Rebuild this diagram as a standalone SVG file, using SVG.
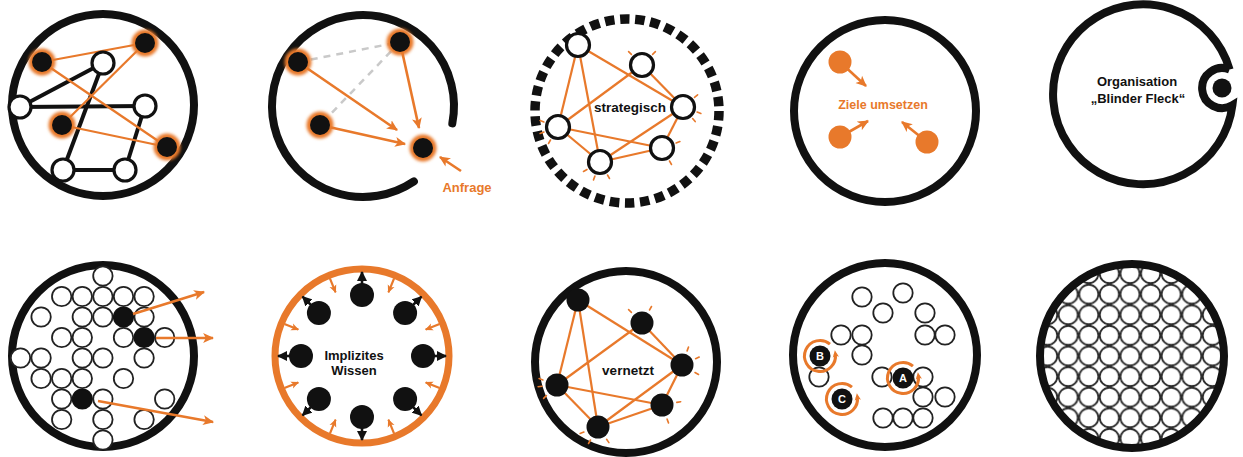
<svg xmlns="http://www.w3.org/2000/svg" width="1243" height="457" viewBox="0 0 1243 457">
<style>
.ring{fill:none;stroke:#111;stroke-width:8}
.bl{stroke:#111;stroke-width:4;fill:none}
.ol{stroke:#E8792B;stroke-width:2.2;fill:none}
.oa{stroke:#E8792B;stroke-width:2.6;fill:none;marker-end:url(#ao)}
.wn{fill:#fff;stroke:#111;stroke-width:3.2}
.bn{fill:#111}
.glow{fill:#E8792B;filter:url(#blur)}
.od{fill:#E8792B}
.tick{stroke:#E8792B;stroke-width:1.6;stroke-linecap:round}
.sc{fill:#fff;stroke:#222;stroke-width:1.8}
.sb{fill:#111;stroke:#111;stroke-width:1.8}
.t{font-family:"Liberation Sans",Arial,sans-serif;font-weight:bold;text-anchor:middle}
</style>
<defs>
<filter id="blur" x="-50%" y="-50%" width="200%" height="200%"><feGaussianBlur stdDeviation="1.6"/></filter>
<marker id="ao" viewBox="0 0 10 10" refX="9" refY="5" markerWidth="11" markerHeight="11" markerUnits="userSpaceOnUse" orient="auto"><path d="M0,0.5 L10,5 L0,9.5 L2.5,5z" fill="#E8792B"/></marker>
<marker id="aos" viewBox="0 0 10 10" refX="9" refY="5" markerWidth="8" markerHeight="8" markerUnits="userSpaceOnUse" orient="auto"><path d="M0,0.5 L10,5 L0,9.5 L2.5,5z" fill="#E8792B"/></marker>
<marker id="aoc" viewBox="0 0 10 10" refX="5" refY="5" markerWidth="7" markerHeight="7" markerUnits="userSpaceOnUse" orient="auto"><path d="M0,0.5 L10,5 L0,9.5 L2.5,5z" fill="#E8792B"/></marker>
<marker id="ab" viewBox="0 0 10 10" refX="9" refY="5" markerWidth="10" markerHeight="10" markerUnits="userSpaceOnUse" orient="auto"><path d="M0,0 L10,5 L0,10z" fill="#111"/></marker>
<pattern id="cells" patternUnits="userSpaceOnUse" x="1119.7" y="345.7" width="20.6" height="20.6"><rect width="20.6" height="20.6" fill="#fff"/><circle cx="10.3" cy="10.3" r="9.6" fill="#fff" stroke="#2a2a2a" stroke-width="1.8"/></pattern>
</defs>
<rect width="1243" height="457" fill="#fff"/>

<!-- Panel 1 -->
<g id="panel1">
<circle class="ring" cx="103" cy="105" r="91"/>
<g id="p1-connectors">
<line class="bl" x1="20" y1="107" x2="103" y2="63"/>
<line class="bl" x1="20" y1="107" x2="145" y2="106"/>
<line class="bl" x1="103" y1="63" x2="63" y2="170"/>
<line class="bl" x1="63" y1="170" x2="125" y2="170"/>
<line class="bl" x1="125" y1="170" x2="145" y2="106"/>
<line class="ol" x1="42" y1="62" x2="145" y2="43"/>
<line class="ol" x1="145" y1="43" x2="62" y2="125"/>
<line class="ol" x1="42" y1="62" x2="167" y2="147"/>
<line class="ol" x1="62" y1="125" x2="167" y2="147"/>
</g>
<g id="p1-w1"><circle class="wn" cx="103" cy="63" r="11"/></g>
<g id="p1-w2"><circle class="wn" cx="20" cy="107" r="11"/></g>
<g id="p1-w3"><circle class="wn" cx="145" cy="106" r="11"/></g>
<g id="p1-w4"><circle class="wn" cx="63" cy="170" r="11"/></g>
<g id="p1-w5"><circle class="wn" cx="125" cy="170" r="11"/></g>
<g id="p1-b1"><circle class="glow" cx="42" cy="62" r="13.5"/><circle class="bn" cx="42" cy="62" r="10"/></g>
<g id="p1-b2"><circle class="glow" cx="145" cy="43" r="13.5"/><circle class="bn" cx="145" cy="43" r="10"/></g>
<g id="p1-b3"><circle class="glow" cx="62" cy="125" r="13.5"/><circle class="bn" cx="62" cy="125" r="10"/></g>
<g id="p1-b4"><circle class="glow" cx="167" cy="147" r="13.5"/><circle class="bn" cx="167" cy="147" r="10"/></g>
</g>

<!-- Panel 2 -->
<g id="panel2">
<path d="M452.3,123.4 A91,91 0 1 0 413.9,181.4" fill="none" stroke="#111" stroke-width="8" stroke-linecap="round"/>
<g id="p2-connectors">
<line x1="298" y1="62" x2="400" y2="42" stroke="#c9c9c9" stroke-width="2.5" stroke-dasharray="7 6"/>
<line x1="400" y1="42" x2="320" y2="125" stroke="#c9c9c9" stroke-width="2.5" stroke-dasharray="7 6"/>
<line class="oa" x1="298" y1="62" x2="397" y2="130"/>
<line class="oa" x1="400" y1="42" x2="419" y2="128"/>
<line class="oa" x1="320" y1="125" x2="405" y2="144"/>
<line class="oa" x1="461" y1="171" x2="440" y2="157"/>
</g>
<g id="p2-a"><circle class="glow" cx="298" cy="62" r="13.5"/><circle class="bn" cx="298" cy="62" r="10"/></g>
<g id="p2-b"><circle class="glow" cx="400" cy="42" r="13.5"/><circle class="bn" cx="400" cy="42" r="10"/></g>
<g id="p2-c"><circle class="glow" cx="320" cy="125" r="13.5"/><circle class="bn" cx="320" cy="125" r="10"/></g>
<g id="p2-d"><circle class="glow" cx="423" cy="148" r="13.5"/><circle class="bn" cx="423" cy="148" r="10"/></g>
<text class="t" x="467" y="192" font-size="13" fill="#E8792B">Anfrage</text>
</g>

<!-- Panel 3 -->
<g id="panel3">
<circle cx="627" cy="111" r="92" fill="none" stroke="#111" stroke-width="9.5" stroke-dasharray="9.5 5.71"/>
<g id="p3-connectors">
<line class="ol" stroke-width="2.6" x1="578" y1="45" x2="558" y2="127"/>
<line class="ol" stroke-width="2.6" x1="578" y1="45" x2="600" y2="162"/>
<line class="ol" stroke-width="2.6" x1="578" y1="45" x2="683" y2="107"/>
<line class="ol" stroke-width="2.6" x1="642" y1="65" x2="558" y2="127"/>
<line class="ol" stroke-width="2.6" x1="642" y1="65" x2="683" y2="107"/>
<line class="ol" stroke-width="2.6" x1="558" y1="127" x2="662" y2="148"/>
<line class="ol" stroke-width="2.6" x1="558" y1="127" x2="600" y2="162"/>
<line class="ol" stroke-width="2.6" x1="683" y1="107" x2="600" y2="162"/>
<line class="ol" stroke-width="2.6" x1="683" y1="107" x2="662" y2="148"/>
<line class="ol" stroke-width="2.6" x1="600" y1="162" x2="662" y2="148"/>
<path class="tick" d="M631.4,54.4L628.6,51.6M652.6,54.4L655.4,51.6M694.5,97.4L697.6,94.8M697.1,112.1L700.9,113.5M692.6,118.5L695.2,121.6M543.9,121.9L540.1,120.5M543.9,132.1L540.1,133.5M550.5,140L548.5,143.5M676.1,142.9L679.9,141.5M669.5,161L671.5,164.5M587,169.5L583.5,171.5M594.9,176.1L593.5,179.9M607.5,175L609.5,178.5"/>
</g>
<g id="p3-t"><circle class="wn" cx="578" cy="45" r="11.5"/></g>
<g id="p3-tr"><circle class="wn" cx="642" cy="65" r="11.5"/></g>
<g id="p3-r"><circle class="wn" cx="683" cy="107" r="11.5"/></g>
<g id="p3-l"><circle class="wn" cx="558" cy="127" r="11.5"/></g>
<g id="p3-br"><circle class="wn" cx="662" cy="148" r="11.5"/></g>
<g id="p3-b"><circle class="wn" cx="600" cy="162" r="11.5"/></g>
<text class="t" x="630" y="112" font-size="13.5" fill="#111">strategisch</text>
</g>

<!-- Panel 4 -->
<g id="panel4">
<circle class="ring" cx="885" cy="111" r="91"/>
<g id="p4-connectors">
<line class="oa" stroke-width="3" x1="840" y1="62" x2="866" y2="86"/>
<line class="oa" stroke-width="3" x1="840" y1="137" x2="868" y2="121"/>
<line class="oa" stroke-width="3" x1="927" y1="142" x2="902" y2="122"/>
</g>
<g id="p4-d1"><circle class="od" cx="840" cy="62" r="11.5"/></g>
<g id="p4-d2"><circle class="od" cx="840" cy="137" r="11.5"/></g>
<g id="p4-d3"><circle class="od" cx="927" cy="142" r="11.5"/></g>
<text class="t" x="883" y="109" font-size="12.5" fill="#E8792B">Ziele umsetzen</text>
</g>

<!-- Panel 5 -->
<g id="panel5">
<path d="M1229.6,69.5 A90,90 0 1 0 1232.4,105.2 A20,20 0 1 1 1229.6,69.5" fill="none" stroke="#111" stroke-width="8"/>
<circle cx="1222" cy="88" r="9.5" fill="#111"/>
<text class="t" x="1137" y="86" font-size="13" fill="#111">Organisation</text>
<text class="t" x="1138" y="103" font-size="13" fill="#111">„Blinder Fleck“</text>
</g>

<!-- Panel 6 -->
<g id="panel6">
<circle class="ring" cx="103" cy="356" r="91"/>
<g id="p6-cells">
<circle class="sc" cx="102.9" cy="276" r="9.7"/>
<circle class="sc" cx="61.7" cy="296.5" r="9.7"/>
<circle class="sc" cx="82.3" cy="296.5" r="9.7"/>
<circle class="sc" cx="102.9" cy="296.5" r="9.7"/>
<circle class="sc" cx="123.5" cy="296.5" r="9.7"/>
<circle class="sc" cx="144.1" cy="296.5" r="9.7"/>
<circle class="sc" cx="41.1" cy="317" r="9.7"/>
<circle class="sc" cx="82.3" cy="317" r="9.7"/>
<circle class="sc" cx="102.9" cy="317" r="9.7"/>
<circle class="sc" cx="144.1" cy="317" r="9.7"/>
<circle class="sc" cx="61.7" cy="337.5" r="9.7"/>
<circle class="sc" cx="82.3" cy="337.5" r="9.7"/>
<circle class="sc" cx="123.5" cy="337.5" r="9.7"/>
<circle class="sc" cx="164.7" cy="337.5" r="9.7"/>
<circle class="sc" cx="20.5" cy="358" r="9.7"/>
<circle class="sc" cx="41.1" cy="358" r="9.7"/>
<circle class="sc" cx="82.3" cy="358" r="9.7"/>
<circle class="sc" cx="102.9" cy="358" r="9.7"/>
<circle class="sc" cx="144.1" cy="358" r="9.7"/>
<circle class="sc" cx="41.1" cy="378.5" r="9.7"/>
<circle class="sc" cx="61.7" cy="378.5" r="9.7"/>
<circle class="sc" cx="82.3" cy="378.5" r="9.7"/>
<circle class="sc" cx="123.5" cy="378.5" r="9.7"/>
<circle class="sc" cx="61.7" cy="399" r="9.7"/>
<circle class="sc" cx="102.9" cy="399" r="9.7"/>
<circle class="sc" cx="164.7" cy="399" r="9.7"/>
<circle class="sc" cx="61.7" cy="419.5" r="9.7"/>
<circle class="sc" cx="102.9" cy="419.5" r="9.7"/>
<circle class="sc" cx="144.1" cy="419.5" r="9.7"/>
<circle class="sc" cx="102.9" cy="440" r="9.7"/>
<circle class="sb" cx="123.5" cy="317" r="9.7"/>
<circle class="sb" cx="144.1" cy="337.5" r="9.7"/>
<circle class="sb" cx="82.3" cy="399" r="9.7"/>
</g>
<g id="p6-connectors">
<line class="oa" stroke-width="3" x1="133" y1="314" x2="204" y2="292"/>
<line class="oa" stroke-width="3" x1="156" y1="338" x2="213" y2="338"/>
<line class="oa" stroke-width="3" x1="98" y1="401" x2="213" y2="422"/>
</g>
</g>

<!-- Panel 7 -->
<g id="panel7">
<circle cx="362" cy="356" r="87" fill="none" stroke="#E8792B" stroke-width="7"/>
<g id="p7-connectors">
<g stroke="#111" stroke-width="2.6" marker-end="url(#ab)">
<line x1="423" y1="356" x2="446" y2="356"/>
<line x1="405.1" y1="399.1" x2="421.4" y2="415.4"/>
<line x1="362" y1="417" x2="362" y2="440"/>
<line x1="318.9" y1="399.1" x2="302.6" y2="415.4"/>
<line x1="301" y1="356" x2="278" y2="356"/>
<line x1="318.9" y1="312.9" x2="302.6" y2="296.6"/>
<line x1="362" y1="295" x2="362" y2="272"/>
<line x1="405.1" y1="312.9" x2="421.4" y2="296.6"/>
</g>
<g stroke="#E8792B" stroke-width="2.2" marker-end="url(#aos)">
<line x1="439.6" y1="388.1" x2="425.7" y2="382.4"/>
<line x1="394.1" y1="433.6" x2="388.4" y2="419.7"/>
<line x1="329.9" y1="433.6" x2="335.6" y2="419.7"/>
<line x1="284.4" y1="388.1" x2="298.3" y2="382.4"/>
<line x1="284.4" y1="323.9" x2="298.3" y2="329.6"/>
<line x1="329.9" y1="278.4" x2="335.6" y2="292.3"/>
<line x1="394.1" y1="278.4" x2="388.4" y2="292.3"/>
<line x1="439.6" y1="323.9" x2="425.7" y2="329.6"/>
</g>
</g>
<g id="p7-n0"><circle class="bn" cx="423" cy="356" r="12"/></g>
<g id="p7-n1"><circle class="bn" cx="405.1" cy="399.1" r="12"/></g>
<g id="p7-n2"><circle class="bn" cx="362" cy="417" r="12"/></g>
<g id="p7-n3"><circle class="bn" cx="318.9" cy="399.1" r="12"/></g>
<g id="p7-n4"><circle class="bn" cx="301" cy="356" r="12"/></g>
<g id="p7-n5"><circle class="bn" cx="318.9" cy="312.9" r="12"/></g>
<g id="p7-n6"><circle class="bn" cx="362" cy="295" r="12"/></g>
<g id="p7-n7"><circle class="bn" cx="405.1" cy="312.9" r="12"/></g>
<text class="t" x="354" y="360" font-size="13" fill="#111">Implizites</text>
<text class="t" x="354" y="375" font-size="13" fill="#111">Wissen</text>
</g>

<!-- Panel 8 -->
<g id="panel8">
<circle class="ring" cx="626" cy="362" r="91"/>
<g id="p8-connectors">
<line class="ol" stroke-width="2.6" x1="578" y1="300" x2="557" y2="385"/>
<line class="ol" stroke-width="2.6" x1="578" y1="300" x2="598" y2="427"/>
<line class="ol" stroke-width="2.6" x1="578" y1="300" x2="682" y2="365"/>
<line class="ol" stroke-width="2.6" x1="642" y1="323" x2="557" y2="385"/>
<line class="ol" stroke-width="2.6" x1="642" y1="323" x2="682" y2="365"/>
<line class="ol" stroke-width="2.6" x1="557" y1="385" x2="662" y2="405"/>
<line class="ol" stroke-width="2.6" x1="557" y1="385" x2="598" y2="427"/>
<line class="ol" stroke-width="2.6" x1="682" y1="365" x2="598" y2="427"/>
<line class="ol" stroke-width="2.6" x1="682" y1="365" x2="662" y2="405"/>
<line class="ol" stroke-width="2.6" x1="598" y1="427" x2="662" y2="405"/>
<path class="tick" d="M631.4,312.4L628.6,309.6M649.5,310L651.5,306.5M687.1,350.9L688.5,347.1M695.6,358.7L699.2,357M695,372.5L698.5,374.5M542.9,379.9L539.1,378.5M542.1,386.3L538.1,386.7M546.4,395.6L543.6,398.4M676.8,402.4L680.7,401.7M667.1,419.1L668.5,422.9M583.9,432.1L580.1,433.5M590.5,440L588.5,443.5M606.6,439.3L608.9,442.6"/>
</g>
<g id="p8-t"><circle class="bn" cx="578" cy="300" r="11.5"/></g>
<g id="p8-tr"><circle class="bn" cx="642" cy="323" r="11.5"/></g>
<g id="p8-r"><circle class="bn" cx="682" cy="365" r="11.5"/></g>
<g id="p8-l"><circle class="bn" cx="557" cy="385" r="11.5"/></g>
<g id="p8-br"><circle class="bn" cx="662" cy="405" r="11.5"/></g>
<g id="p8-b"><circle class="bn" cx="598" cy="427" r="11.5"/></g>
<text class="t" x="628" y="375" font-size="13.5" fill="#111">vernetzt</text>
</g>

<!-- Panel 9 -->
<g id="panel9">
<circle class="ring" cx="885" cy="355" r="92"/>
<g id="p9-cells">
<circle class="sc" cx="862" cy="297" r="9.7"/>
<circle class="sc" cx="903" cy="293" r="9.7"/>
<circle class="sc" cx="883" cy="313" r="9.7"/>
<circle class="sc" cx="925" cy="313" r="9.7"/>
<circle class="sc" cx="841" cy="335" r="9.7"/>
<circle class="sc" cx="862" cy="335" r="9.7"/>
<circle class="sc" cx="925" cy="335" r="9.7"/>
<circle class="sc" cx="945" cy="335" r="9.7"/>
<circle class="sc" cx="862" cy="355" r="9.7"/>
<circle class="sc" cx="819" cy="377" r="9.7"/>
<circle class="sc" cx="882" cy="377" r="9.7"/>
<circle class="sc" cx="923" cy="377" r="9.7"/>
<circle class="sc" cx="923" cy="397" r="9.7"/>
<circle class="sc" cx="945" cy="397" r="9.7"/>
<circle class="sc" cx="883" cy="418" r="9.7"/>
<circle class="sc" cx="903" cy="418" r="9.7"/>
<circle class="sc" cx="923" cy="418" r="9.7"/>
</g>
<g id="p9-B"><circle class="bn" cx="820" cy="356" r="10.5"/><path d="M829.96,344.13 A15.5,15.5 0 1 0 835.35,353.84" fill="none" stroke="#E8792B" stroke-width="3" marker-end="url(#aoc)"/><text class="t" x="820" y="360" font-size="11" fill="#fff">B</text></g>
<g id="p9-A"><circle class="bn" cx="903" cy="378" r="10.5"/><path d="M912.96,366.13 A15.5,15.5 0 1 0 918.35,375.84" fill="none" stroke="#E8792B" stroke-width="3" marker-end="url(#aoc)"/><text class="t" x="903" y="382" font-size="11" fill="#fff">A</text></g>
<g id="p9-C"><circle class="bn" cx="842" cy="399" r="10.5"/><path d="M851.96,387.13 A15.5,15.5 0 1 0 857.35,396.84" fill="none" stroke="#E8792B" stroke-width="3" marker-end="url(#aoc)"/><text class="t" x="842" y="403" font-size="11" fill="#fff">C</text></g>
</g>

<!-- Panel 10 -->
<g id="panel10">
<circle cx="1132" cy="356" r="90" fill="url(#cells)"/>
<circle class="ring" cx="1132" cy="356" r="92"/>
</g>
</svg>
